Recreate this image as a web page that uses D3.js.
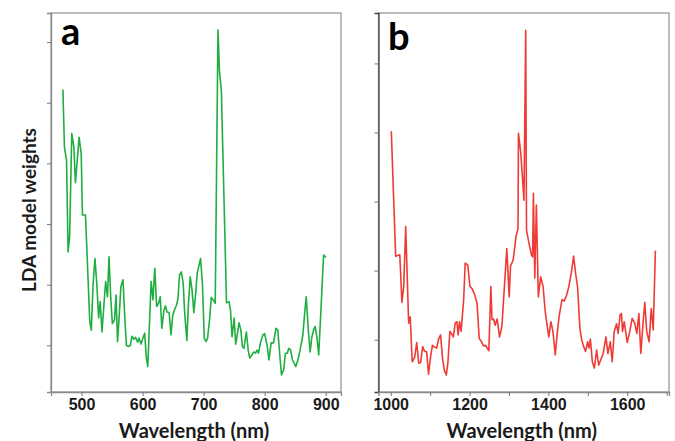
<!DOCTYPE html>
<html>
<head>
<meta charset="utf-8">
<script src="https://cdn.jsdelivr.net/npm/d3@7"></script>
<style>
  body { margin: 0; background: #fff; }
  svg { display: block; font-family: Lato, "Open Sans", sans-serif; }
</style>
</head>
<body>
<svg id="chart" width="675" height="441"></svg>
<script>
// panel a: visible range, wavelength (nm) and LDA weight (arbitrary units, tick spacing = 1)
const waveA = [469.5, 472, 475.5, 478, 480.5, 484, 487.5, 490, 493, 496, 499.5, 501.5, 506.5, 513.5, 516,
  519, 522, 525, 528, 530.5, 533.5, 536.5, 539.5, 542.5, 545, 548, 550.5, 554, 556.5, 559, 562, 564.5,
  568, 570.5, 573.5, 577, 580, 582.5, 585.5, 588.5, 592, 594, 597.5, 600.5, 603.5, 606, 608.5, 614, 617,
  620, 623, 626, 629, 631.5, 635, 637.5, 640, 643.5, 646.5, 649.5, 652, 655.5, 658, 660.5, 663.5, 666.5,
  669, 672.5, 675, 678, 681, 684, 687, 689.5, 692.5, 695, 698, 701, 704, 706.5, 710, 712.5, 715, 719,
  723.5, 726, 729, 737.5, 741.5, 744, 746.5, 750, 752.5, 755.5, 758, 761, 763.5, 766, 770, 773, 775.5,
  779, 782, 785, 787.5, 790, 793, 797, 800, 804, 807, 810.5, 814.5, 818.5, 821.5, 824.5, 827.5, 831,
  834, 837, 839.5, 842.5, 845.5, 848.5, 851, 854.5, 858, 862.5, 865, 868, 871.5, 874.5, 877, 880, 882.5,
  885.5, 888.5, 894, 896.5, 900.5];
const weightA = [5.22, 4.27, 4.05, 2.54, 2.79, 4.49, 4.27, 3.68, 4.05, 4.43, 4.16, 3.15, 3.15, 1.39, 1.25,
  2.02, 2.43, 2.02, 1.45, 1.72, 1.22, 1.64, 2.05, 1.80, 2.46, 1.75, 1.36, 1.42, 1.83, 1.06, 1.53, 1.97,
  2.08, 1.53, 1.00, 0.98, 1.00, 1.15, 1.10, 1.13, 1.05, 1.12, 1.02, 1.12, 1.20, 0.81, 0.65, 2.05, 1.75,
  2.27, 1.64, 1.69, 1.80, 1.28, 1.58, 1.65, 1.55, 1.54, 1.17, 1.50, 1.58, 1.66, 1.77, 2.16, 2.21, 2.02,
  1.53, 1.08, 1.66, 2.13, 1.91, 1.54, 1.86, 2.19, 2.32, 2.43, 2.02, 1.12, 1.06, 1.12, 1.45, 1.79, 1.76, 1.69,
  6.20, 5.50, 5.21, 1.70, 1.72, 1.58, 1.14, 1.45, 1.02, 1.20, 1.37, 1.25, 0.98, 0.95, 1.22, 0.92, 0.79,
  0.84, 0.89, 0.87, 0.92, 0.87, 1.04, 1.17, 1.19, 1.00, 0.76, 1.04, 1.04, 1.28, 1.25, 0.87, 0.51, 0.59,
  0.87, 0.87, 0.95, 0.92, 0.76, 0.70, 0.65, 0.76, 0.92, 1.17, 1.47, 1.80, 1.25, 0.89, 1.12, 1.25, 1.31,
  1.14, 0.84, 1.97, 2.49, 2.45];

// panel b: near-infrared range
const waveB = [1001.5, 1012.5, 1023, 1028.5, 1033, 1038, 1045.5, 1049.5, 1054.5, 1061, 1066, 1071, 1076,
  1081, 1086, 1091, 1096, 1101, 1106, 1111, 1116.5, 1121.5, 1126.5, 1131.5, 1136, 1141, 1145, 1150, 1155,
  1159, 1163.5, 1168, 1171, 1174.5, 1178.5, 1185, 1189, 1195.5, 1201, 1206.5, 1213, 1219, 1224.5, 1230.5,
  1235.5, 1240.5, 1244.5, 1249, 1254, 1257, 1261, 1265, 1270, 1276, 1282, 1294.5, 1300.5, 1304, 1310.5,
  1315, 1318, 1323, 1324, 1330, 1338, 1342.5, 1344.5, 1350, 1357, 1360, 1362, 1365.5, 1369.5, 1374.5,
  1380.5, 1386.5, 1392.5, 1397, 1401, 1406.5, 1411.5, 1417.5, 1422, 1427, 1434.5, 1440.5, 1446.5, 1452,
  1458, 1464, 1469, 1474, 1480, 1484.5, 1489.5, 1494.5, 1499.5, 1503, 1506.5, 1511.5, 1516.5, 1522.5,
  1527.5, 1533, 1539, 1546, 1551, 1557, 1562, 1567, 1573, 1577, 1582, 1585.5, 1588, 1592.5, 1600, 1606.5,
  1612.5, 1619, 1624.5, 1629.5, 1634.5, 1639.5, 1644.5, 1649.5, 1655.5, 1661, 1666, 1671.5];
const weightB = [4.02, 2.21, 2.23, 1.54, 1.77, 2.64, 1.24, 1.33, 0.68, 0.75, 0.96, 0.66, 0.67, 0.90, 0.83,
  0.83, 0.50, 0.75, 0.92, 0.89, 0.88, 1.01, 1.07, 0.73, 0.56, 0.49, 0.66, 1.12, 1.08, 1.04, 1.24, 1.26,
  1.07, 1.26, 1.12, 1.57, 2.11, 2.08, 1.77, 1.74, 1.65, 1.53, 1.02, 0.97, 0.91, 0.92, 0.88, 0.84, 1.77,
  1.29, 1.30, 1.21, 1.30, 1.04, 1.19, 2.32, 1.62, 2.07, 2.15, 2.35, 2.50, 2.61, 3.99, 3.70, 3.02, 5.48,
  2.59, 2.42, 2.23, 2.20, 3.12, 1.89, 2.95, 1.62, 1.91, 1.77, 1.38, 1.20, 1.04, 1.26, 1.12, 0.78, 1.07,
  1.33, 1.58, 1.56, 1.65, 1.77, 1.96, 2.21, 1.96, 1.77, 1.16, 1.00, 0.90, 0.83, 0.97, 0.88, 1.01, 0.68,
  0.59, 0.85, 0.63, 0.71, 0.80, 1.04, 0.80, 0.97, 0.68, 1.12, 1.23, 1.09, 1.36, 1.38, 1.12, 1.26, 0.96,
  1.12, 1.31, 1.24, 1.09, 1.38, 0.80, 1.19, 1.54, 1.12, 0.97, 1.45, 1.14, 2.29];

const xTicksA = [500, 600, 700, 800, 900];
const yTicksA = [1, 2, 3, 4, 5, 6];
const xTicksB = [1000, 1100, 1200, 1300, 1400, 1500, 1600, 1700];
const xLabelsB = [1000, 1200, 1400, 1600];
const yTicksB = [1, 2, 3, 4, 5];

const svg = d3.select('#chart');
const plotTop = 13, plotBottom = 392;

function drawPanel(p) {
  const x = d3.scaleLinear().domain(p.xDomain).range([p.left, p.right]);
  const y = d3.scaleLinear().domain(p.yDomain).range([plotBottom, plotTop]);
  const g = svg.append('g');

  // frame
  g.append('rect')
    .attr('x', p.left).attr('y', plotTop)
    .attr('width', p.right - p.left).attr('height', plotBottom - plotTop)
    .attr('fill', 'none').attr('stroke', '#9a9a9a').attr('stroke-width', 1.3);

  const yAxis = g.append('g')
    .attr('transform', `translate(${p.left},0)`)
    .call(d3.axisLeft(y).tickValues(p.yTicks).tickSize(4).tickFormat(''));
  yAxis.select('.domain').attr('stroke', p.axisColor).attr('stroke-width', 1.3);
  yAxis.selectAll('.tick line').attr('stroke', '#777');

  const xAxis = g.append('g')
    .attr('transform', `translate(0,${plotBottom})`)
    .call(d3.axisBottom(x).tickValues(p.xTicks).tickSize(4)
      .tickFormat(d => p.xLabels.includes(d) ? d : ''));
  xAxis.select('.domain').attr('stroke', '#8a8a8a').attr('stroke-width', 1.3);
  xAxis.selectAll('.tick line').attr('stroke', '#777');
  xAxis.selectAll('.tick text')
    .attr('y', 7)
    .attr('fill', '#1a1a1a')
    .style('font-size', '16px')
    .style('font-weight', 'bold');

  const line = d3.line().x(d => x(d[0])).y(d => y(d[1]));
  g.append('path')
    .datum(d3.zip(p.wave, p.weight))
    .attr('d', line)
    .attr('fill', 'none')
    .attr('stroke', p.color)
    .attr('stroke-width', 1.6)
    .attr('stroke-linejoin', 'round');

  g.append('text')
    .attr('x', p.tagX).attr('y', p.tagY)
    .attr('font-size', 38).attr('font-weight', 'bold')
    .attr('fill', '#000')
    .text(p.tag);

  g.append('text')
    .attr('x', (p.left + p.right) / 2 - 2).attr('y', 438)
    .attr('text-anchor', 'middle')
    .attr('font-size', 20).attr('font-weight', 'bold')
    .attr('fill', '#1a1a1a')
    .text('Wavelength (nm)');
}

drawPanel({
  wave: waveA, weight: weightA, color: '#1fae3f',
  left: 51, right: 341, xDomain: [450, 925], yDomain: [0.23, 6.48],
  xTicks: xTicksA, xLabels: xTicksA, yTicks: yTicksA,
  axisColor: '#8a8a8a', tag: 'a', tagX: 61, tagY: 45
});

drawPanel({
  wave: waveB, weight: weightB, color: '#ee3b36',
  left: 378.5, right: 669, xDomain: [969, 1706], yDomain: [0.243, 5.73],
  xTicks: xTicksB, xLabels: xLabelsB, yTicks: yTicksB,
  axisColor: '#444', tag: 'b', tagX: 388, tagY: 50
});

svg.append('text')
  .attr('transform', 'translate(28,210) rotate(-90)')
  .attr('text-anchor', 'middle')
  .attr('dominant-baseline', 'central')
  .attr('font-size', 19).attr('font-weight', 'bold')
  .attr('fill', '#1a1a1a')
  .text('LDA model weights');
</script>
</body>
</html>
